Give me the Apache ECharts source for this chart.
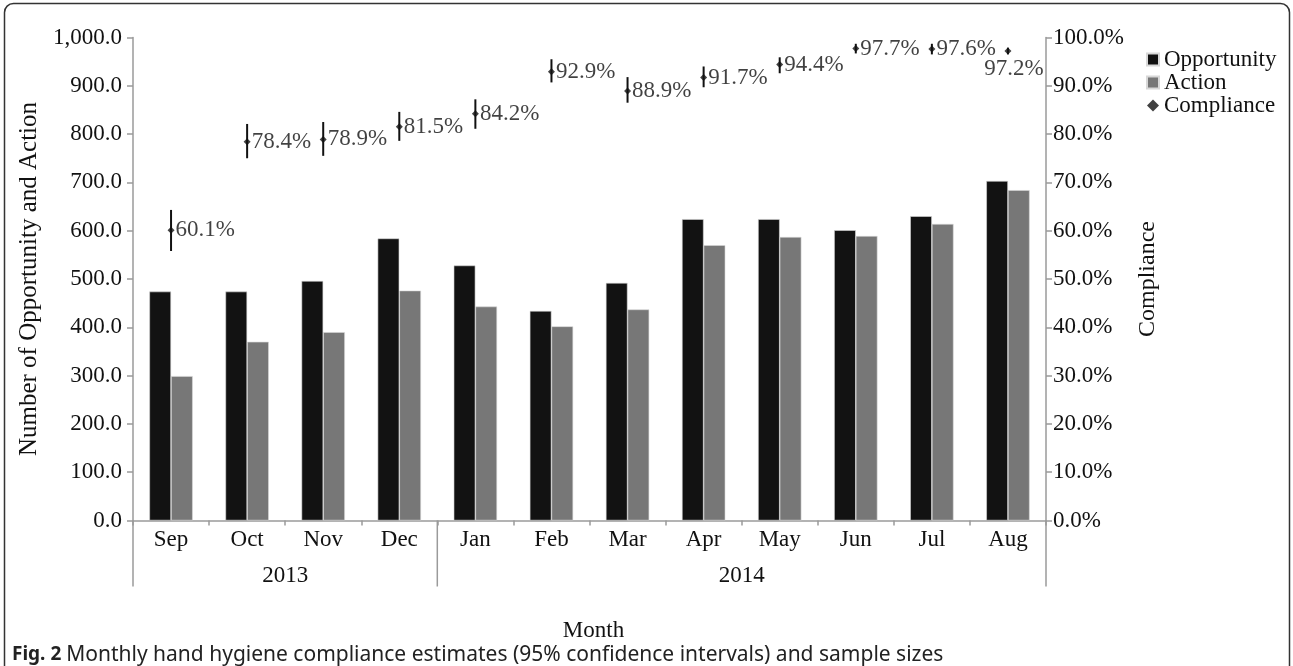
<!DOCTYPE html>
<html>
<head>
<meta charset="utf-8">
<script src="https://cdn.jsdelivr.net/npm/echarts@6/dist/echarts.min.js"></script>
<style>
html,body{margin:0;padding:0;background:#fff;}
#chart{width:1293px;height:666px;}
</style>
</head>
<body>
<div id="chart"></div>
<script>
const months = ['Sep','Oct','Nov','Dec','Jan','Feb','Mar','Apr','May','Jun','Jul','Aug'];
const years = ['2013','2014'];
const yearStart = [0, 4];
const yearEnd = [3, 11];
const opportunity = [474, 474, 496, 584, 528, 434, 492, 624, 624, 601, 630, 703];
const action = [299, 370, 390, 476, 443, 402, 437, 570, 587, 589, 614, 684];
const compliance = [60.1, 78.4, 78.9, 81.5, 84.2, 92.9, 88.9, 91.7, 94.4, 97.7, 97.6, 97.2];
const ciLow = [55.8, 75.0, 75.5, 78.6, 81.1, 90.7, 86.5, 89.7, 92.6, 96.7, 96.5, 96.5];
const ciHigh = [64.3, 82.1, 82.5, 84.6, 87.2, 95.5, 91.8, 94.0, 95.9, 98.7, 98.7, 97.9];
const leftTicks = {min: 0, max: 1000, interval: 100};
const rightTicks = {min: 0, max: 100, interval: 10};

const SERIF = "'Liberation Serif', 'DejaVu Serif', serif";
const AXIS = '#9a9a9a';
const FS = 23;

function commaFmt(v) {
  const s = v.toFixed(1);
  const parts = s.split('.');
  parts[0] = parts[0].replace(/\B(?=(\d{3})+(?!\d))/g, ',');
  return parts.join('.');
}

const chart = echarts.init(document.getElementById('chart'));

const compData = compliance.map((v, i) => {
  const d = {value: [i, v]};
  if (i === months.length - 1) {
    d.label = {position: 'bottom', distance: 3, offset: [6, 0]};
  }
  return d;
});

const option = {
  animation: false,
  textStyle: {fontFamily: SERIF},
  grid: {left: 133, right: 247, top: 37.5, bottom: 145.5, containLabel: false},
  legend: {
    orient: 'vertical',
    left: 1141,
    top: 43,
    itemWidth: 12,
    itemHeight: 12,
    itemGap: 0,
    textStyle: {fontFamily: SERIF, fontSize: FS, color: '#111', lineHeight: 23},
    data: [
      {name: 'Opportunity', icon: 'rect'},
      {name: 'Action', icon: 'rect'},
      {name: 'Compliance', icon: 'diamond'}
    ]
  },
  xAxis: {
    type: 'category',
    data: months,
    boundaryGap: true,
    axisLine: {lineStyle: {color: AXIS, width: 1.5}},
    axisTick: {show: true, length: 5, lineStyle: {color: AXIS, width: 1.5}},
    axisLabel: {fontFamily: SERIF, fontSize: FS, color: '#111', margin: 8},
    splitLine: {show: false}
  },
  yAxis: [
    {
      type: 'value',
      min: leftTicks.min, max: leftTicks.max, interval: leftTicks.interval,
      name: 'Number of Opportunity and Action',
      nameLocation: 'middle',
      nameGap: 83,
      nameTextStyle: {fontFamily: SERIF, fontSize: 25, color: '#111'},
      axisLine: {show: true, lineStyle: {color: AXIS, width: 1.5}},
      axisTick: {show: true, length: 6, lineStyle: {color: AXIS, width: 1.5}},
      axisLabel: {fontFamily: SERIF, fontSize: FS, color: '#111', margin: 11, formatter: commaFmt},
      splitLine: {show: false}
    },
    {
      type: 'value',
      position: 'right',
      min: rightTicks.min, max: rightTicks.max, interval: rightTicks.interval,
      name: 'Compliance',
      nameLocation: 'middle',
      nameGap: 90,
      nameRotate: 90,
      nameTextStyle: {fontFamily: SERIF, fontSize: 24, color: '#111'},
      axisLine: {show: true, lineStyle: {color: AXIS, width: 1.5}},
      axisTick: {show: true, length: 6, lineStyle: {color: AXIS, width: 1.5}},
      axisLabel: {fontFamily: SERIF, fontSize: FS, color: '#111', margin: 7, formatter: v => v.toFixed(1) + '%'},
      splitLine: {show: false}
    }
  ],
  series: [
    {
      name: 'Opportunity',
      type: 'bar',
      data: opportunity,
      barGap: '0%',
      barCategoryGap: '43%',
      itemStyle: {color: '#121212', borderColor: '#d8d8d8', borderWidth: 0.6}
    },
    {
      name: 'Action',
      type: 'bar',
      data: action,
      barGap: '0%',
      barCategoryGap: '43%',
      itemStyle: {color: '#777777', borderColor: '#d8d8d8', borderWidth: 0.6}
    },
    {
      name: 'CI',
      type: 'custom',
      yAxisIndex: 1,
      data: months.map((m, i) => [i, ciLow[i], ciHigh[i]]),
      renderItem: function (params, api) {
        const lo = api.coord([api.value(0), api.value(1)]);
        const hi = api.coord([api.value(0), api.value(2)]);
        return {
          type: 'line',
          shape: {x1: lo[0], y1: lo[1], x2: hi[0], y2: hi[1]},
          style: {stroke: '#111', lineWidth: 2}
        };
      },
      z: 3,
      silent: true
    },
    {
      name: 'Compliance',
      type: 'scatter',
      yAxisIndex: 1,
      symbol: 'diamond',
      symbolSize: 7,
      itemStyle: {color: '#111'},
      data: compData,
      z: 4,
      label: {
        show: true,
        position: 'right',
        distance: 1,
        fontFamily: SERIF,
        fontSize: FS,
        color: '#111',
        formatter: p => p.value[1].toFixed(1) + '%'
      }
    }
  ]
};

chart.setOption(option);

function addGraphics() {
  const graphics = [];
  const y0 = chart.convertToPixel({yAxisIndex: 0}, 0);
  const yBottom = y0 + 66;
  const bounds = [];
  const half = (chart.convertToPixel({xAxisIndex: 0}, months[1]) - chart.convertToPixel({xAxisIndex: 0}, months[0])) / 2;
  yearStart.forEach((s, i) => {
    const a = chart.convertToPixel({xAxisIndex: 0}, months[s]);
    const b = chart.convertToPixel({xAxisIndex: 0}, months[yearEnd[i]]);
    const left = a - half, right = b + half;
    bounds.push(left, right);
    graphics.push({
      type: 'text',
      x: (left + right) / 2,
      y: y0 + 55,
      style: {text: years[i], font: FS + 'px ' + SERIF, fill: '#111', align: 'center', verticalAlign: 'middle'}
    });
  });
  const uniq = [...new Set(bounds.map(v => Math.round(v * 10) / 10))];
  uniq.forEach(x => {
    graphics.push({
      type: 'line',
      shape: {x1: x, y1: y0, x2: x, y2: yBottom},
      style: {stroke: AXIS, lineWidth: 1.5}
    });
  });
  const xl = chart.convertToPixel({xAxisIndex: 0}, months[0]);
  const xr = chart.convertToPixel({xAxisIndex: 0}, months[months.length - 1]);
  graphics.push({
    type: 'text',
    x: (xl + xr) / 2 + 4,
    y: 631,
    style: {text: 'Month', font: FS + 'px ' + SERIF, fill: '#111', align: 'center', verticalAlign: 'middle'}
  });
  graphics.push({
    type: 'text',
    x: 12,
    y: 655,
    style: {
      text: '{b|Fig. 2} {r|Monthly hand hygiene compliance estimates (95% confidence intervals) and sample sizes}',
      fill: '#222',
      verticalAlign: 'middle',
      font: "19px 'Noto Sans', sans-serif",
      rich: {
        b: {fontWeight: 'bold', fontSize: 19, fontFamily: "'Noto Sans', sans-serif", fill: '#222'},
        r: {fontSize: 21, fontFamily: "'Noto Sans', sans-serif", fill: '#222'}
      }
    }
  });
  graphics.push({
    type: 'rect',
    shape: {x: 4.5, y: 3.5, width: 1285, height: 690, r: 9},
    style: {fill: 'none', stroke: '#333', lineWidth: 1.5},
    silent: true
  });
  chart.setOption({graphic: graphics});
}
addGraphics();
</script>
</body>
</html>
